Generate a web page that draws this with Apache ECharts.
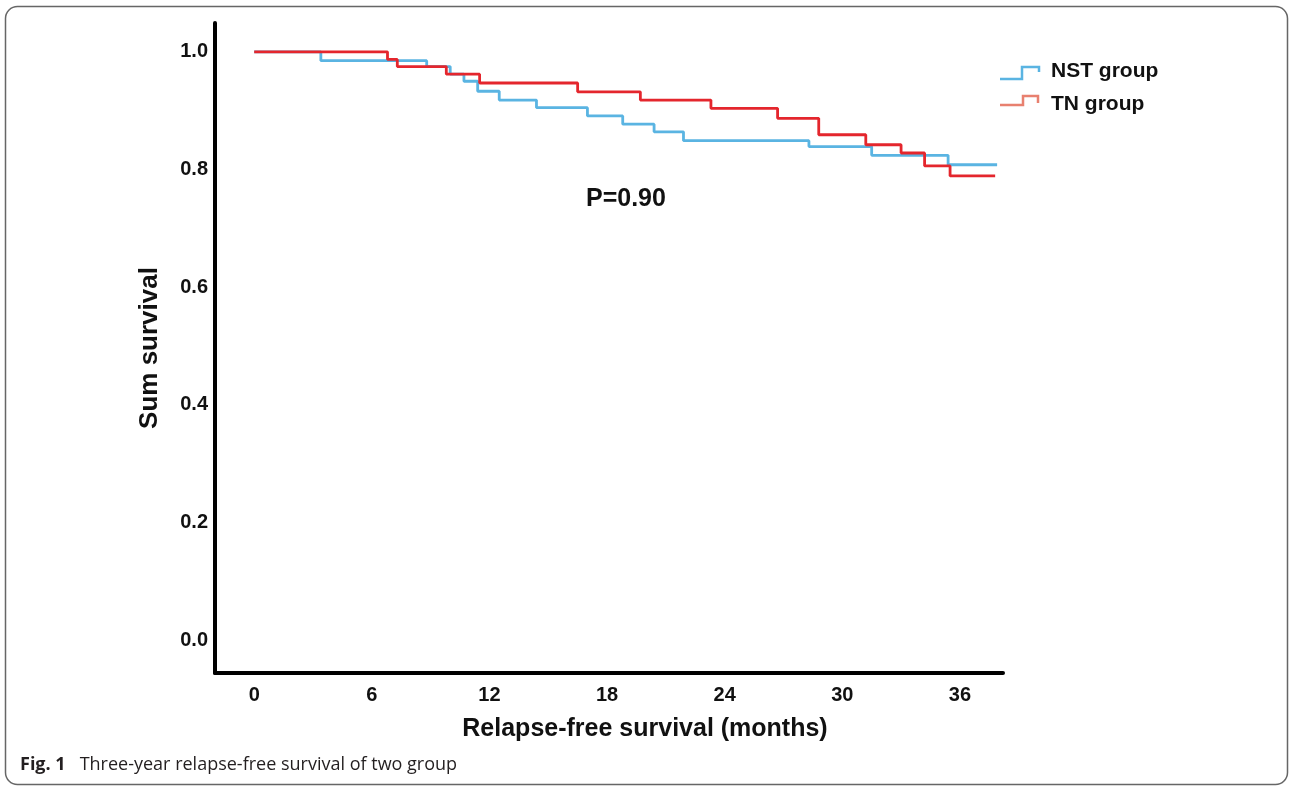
<!DOCTYPE html>
<html>
<head>
<meta charset="utf-8">
<script src="https://cdn.jsdelivr.net/npm/echarts@6/dist/echarts.min.js"></script>
<style>
  html, body { margin: 0; padding: 0; background: #fff; }
  #chart { width: 1290px; height: 786px; }
</style>
</head>
<body>
<div id="chart"></div>
<script>
// months and survival (value holds from that month on)
let nstMonths = [0, 3.4, 8.8, 10.0, 10.7, 11.4, 12.5, 14.4, 17.0, 18.8, 20.4, 21.9, 28.3, 31.5, 35.4, 37.9];
let nstSurv = [1.0, 0.985, 0.975, 0.962, 0.950, 0.933, 0.918, 0.905, 0.891, 0.877, 0.864, 0.849, 0.839, 0.824, 0.808, 0.808];
let tnMonths = [0, 6.8, 7.3, 9.8, 11.5, 16.5, 19.7, 23.3, 26.7, 28.8, 31.2, 33.0, 34.2, 35.5, 37.8];
let tnSurv = [1.0, 0.987, 0.975, 0.962, 0.947, 0.932, 0.918, 0.904, 0.887, 0.859, 0.842, 0.828, 0.806, 0.789, 0.789];
let xTicks = [0, 6, 12, 18, 24, 30, 36];
let yTicks = [0, 0.2, 0.4, 0.6, 0.8, 1.0];
let groupNames = ['NST group', 'TN group'];

let blue = '#5ab4e2';
let red = '#e4262d';
let boldFont = '"Liberation Sans", Arial, sans-serif';

let pairs = (xs, ys) => xs.map((x, i) => [x, ys[i]]);

let chart = echarts.init(document.getElementById('chart'));

let option = {
  animation: false,
  backgroundColor: '#fff',
  grid: { left: 215, right: 287, top: 23, bottom: 113 },
  xAxis: {
    type: 'value',
    min: -2,
    max: 38.2,
    name: 'Relapse-free survival (months)',
    nameLocation: 'middle',
    nameGap: 44,
    nameTextStyle: {
      fontFamily: boldFont, fontWeight: 'bold', fontSize: 25, color: '#111',
      padding: [0, 0, 0, 72]
    },
    axisLine: { onZero: false, lineStyle: { color: '#000', width: 4 } },
    axisTick: { show: false },
    splitLine: { show: false },
    axisLabel: {
      customValues: xTicks,
      margin: 12,
      fontFamily: boldFont, fontWeight: 'bold', fontSize: 20, color: '#111'
    }
  },
  yAxis: {
    type: 'value',
    min: -0.056,
    max: 1.049,
    name: 'Sum survival',
    nameLocation: 'middle',
    nameGap: 52,
    nameTextStyle: { fontFamily: boldFont, fontWeight: 'bold', fontSize: 26, color: '#111' },
    axisLine: { onZero: false, lineStyle: { color: '#000', width: 4 } },
    axisTick: { show: false },
    splitLine: { show: false },
    axisLabel: {
      customValues: yTicks,
      margin: 7,
      formatter: v => v.toFixed(1),
      fontFamily: boldFont, fontWeight: 'bold', fontSize: 20, color: '#111'
    }
  },
  series: [
    {
      name: groupNames[0],
      type: 'line',
      step: 'end',
      symbol: 'none',
      lineStyle: { color: blue, width: 2.8 },
      data: pairs(nstMonths, nstSurv)
    },
    {
      name: groupNames[1],
      type: 'line',
      step: 'end',
      symbol: 'none',
      lineStyle: { color: red, width: 2.8 },
      data: pairs(tnMonths, tnSurv)
    }
  ],
  graphic: [
    // outer frame
    {
      type: 'rect', silent: true,
      shape: { x: 5.5, y: 6.5, width: 1282, height: 778, r: 12 },
      style: { fill: 'none', stroke: '#666', lineWidth: 1.5 }
    },
    // legend
    {
      type: 'polyline', silent: true,
      shape: { points: [[1000, 79], [1022, 79], [1022, 67], [1039, 67], [1039, 72]] },
      style: { fill: 'none', stroke: blue, lineWidth: 2.5 }
    },
    {
      type: 'text', left: 1051, top: 61,
      style: { text: groupNames[0], fontFamily: boldFont, fontWeight: 'bold', fontSize: 21, fill: '#111' }
    },
    {
      type: 'polyline', silent: true,
      shape: { points: [[1000, 105], [1023, 105], [1023, 96], [1038, 96], [1038, 103]] },
      style: { fill: 'none', stroke: '#e8806f', lineWidth: 2.5 }
    },
    {
      type: 'text', left: 1051, top: 94,
      style: { text: groupNames[1], fontFamily: boldFont, fontWeight: 'bold', fontSize: 21, fill: '#111' }
    },
    // p value
    {
      type: 'text', left: 586, top: 187,
      style: { text: 'P=0.90', fontFamily: boldFont, fontWeight: 'bold', fontSize: 25, fill: '#111' }
    },
    // caption
    {
      type: 'text', left: 20, top: 756,
      style: {
        text: '{b|Fig. 1}   Three-year relapse-free survival of two group',
        fontFamily: '"Open Sans", sans-serif', fontSize: 18, fill: '#231f20',
        rich: { b: { fontFamily: '"Open Sans", sans-serif', fontWeight: 'bold', fontSize: 18, fill: '#231f20' } }
      }
    }
  ]
};

chart.setOption(option);
</script>
</body>
</html>
